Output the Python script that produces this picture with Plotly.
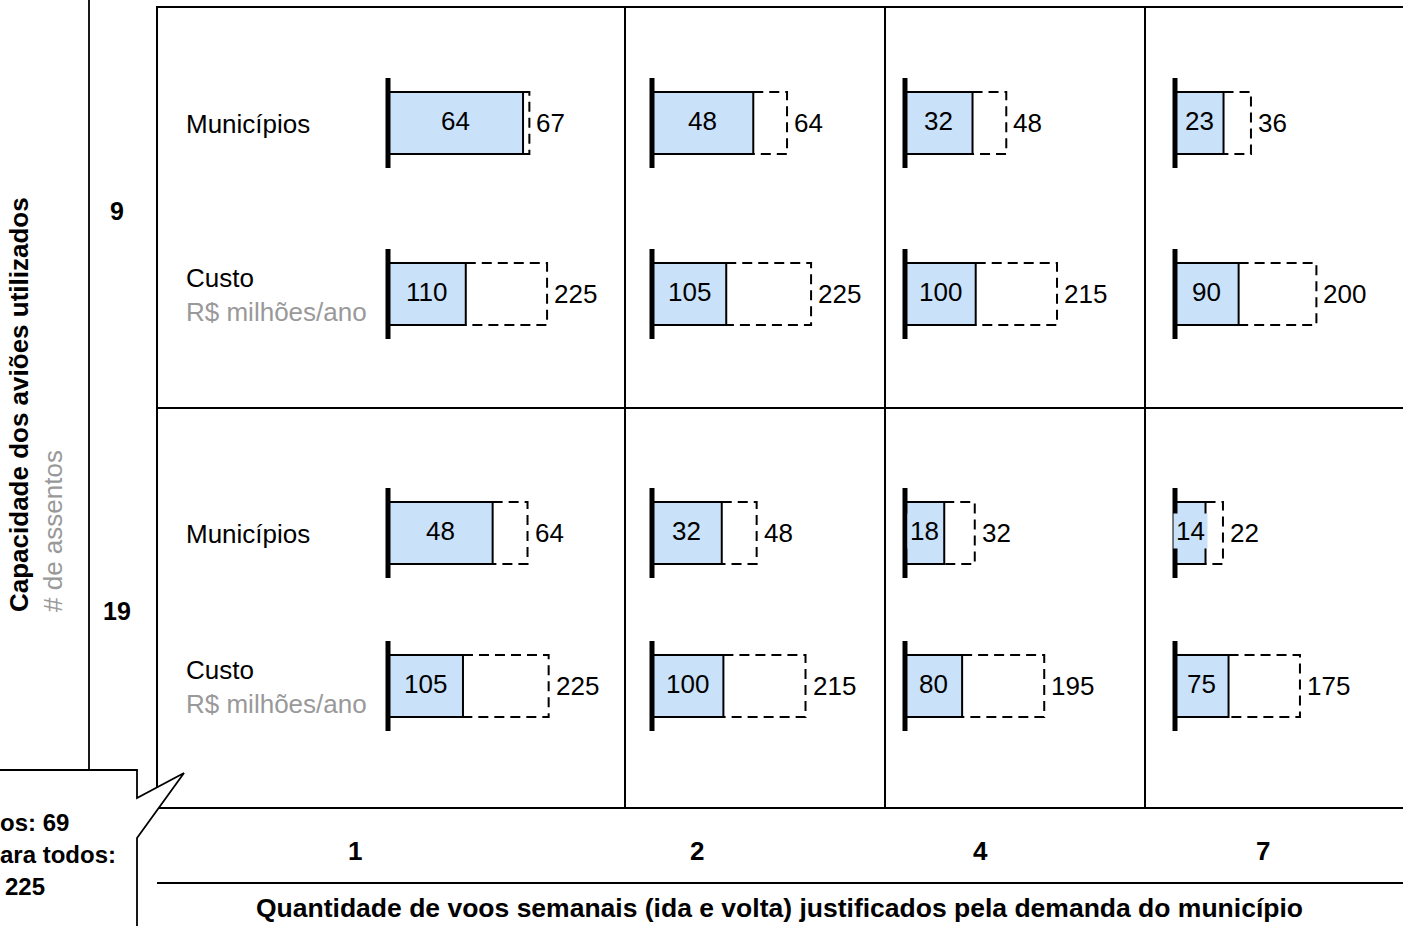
import plotly.graph_objects as go

W, H = 1403, 926
FONT = "Liberation Sans, Arial, sans-serif"
BLUE = "#c9e1f9"
GRAY = "#999999"

# Rows: aircraft capacity (seats); columns: weekly round trips
capacity_labels = ["9", "19"]
freq_labels = ["1", "2", "4", "7"]

municipios = [[64, 48, 32, 23], [48, 32, 18, 14]]
municipios_total = [[67, 64, 48, 36], [64, 48, 32, 22]]
custo = [[110, 105, 100, 90], [105, 100, 80, 75]]
custo_total = [[225, 225, 215, 200], [225, 215, 195, 175]]

# Callout at the lower-left corner (runs off the left edge of the page)
callout_lines = ["os: 69", "ara todos:", "225"]

# ---- layout geometry (pixels) ----
col_origin = [388, 652, 905, 1175]
muni_center = [123, 533]
cost_center = [294, 686]
muni_scale = [2.11, 2.18]    # px per município
cost_scale = [0.707, 0.714]  # px per R$ milhão
BAR_H = 62
PAD, SPAN = 10, 200

fig = go.Figure()
layout_axes = {}
annotations = []
ax_id = 2


def add_cell(value, total, col, yc, scale):
    global ax_id
    n = ax_id
    ax_id += 1
    origin = col_origin[col]
    layout_axes[f"xaxis{n}"] = dict(
        domain=[(origin - PAD) / W, (origin + SPAN) / W],
        range=[-PAD / scale, SPAN / scale],
        anchor="y", visible=False, fixedrange=True,
    )
    xr = f"x{n}"
    fig.add_trace(go.Bar(
        x=[value], y=[yc], base=0, orientation="h", width=BAR_H,
        marker=dict(color=BLUE, line=dict(color="black", width=2)),
        xaxis=xr, yaxis="y", hoverinfo="skip", showlegend=False,
    ))
    top, bot = yc - BAR_H / 2, yc + BAR_H / 2
    fig.add_trace(go.Scatter(
        x=[value, total, total, value], y=[top, top, bot, bot],
        mode="lines", line=dict(color="black", width=2, dash="10px,6px"),
        xaxis=xr, yaxis="y", hoverinfo="skip", showlegend=False,
    ))
    fig.add_trace(go.Scatter(
        x=[0, 0], y=[yc - 45, yc + 45], mode="lines",
        line=dict(color="black", width=5),
        xaxis=xr, yaxis="y", hoverinfo="skip", showlegend=False,
    ))
    annotations.append(dict(
        x=value / 2, y=yc - 2, xref=xr, yref="y", text=str(value),
        showarrow=False, bgcolor=BLUE, borderpad=2,
        font=dict(family=FONT, size=26, color="black"),
        xanchor="center", yanchor="middle",
    ))
    annotations.append(dict(
        x=total, y=yc, xref=xr, yref="y", text=str(total), xshift=5,
        showarrow=False, font=dict(family=FONT, size=26, color="black"),
        xanchor="left", yanchor="middle",
    ))


for r in range(2):
    for c in range(4):
        add_cell(municipios[r][c], municipios_total[r][c], c, muni_center[r], muni_scale[r])
        add_cell(custo[r][c], custo_total[r][c], c, cost_center[r], cost_scale[r])

# Row labels inside the first column
for r in range(2):
    annotations.append(dict(
        x=184, y=muni_center[r] + 1, xref="x", yref="y", text="Municípios",
        showarrow=False, font=dict(family=FONT, size=26, color="black"),
        xanchor="left", yanchor="middle",
    ))
    annotations.append(dict(
        x=184, y=cost_center[r] + 1, xref="x", yref="y",
        text=f"Custo<br><span style='color:{GRAY}'>R$ milhões/ano</span>",
        showarrow=False, align="left",
        font=dict(family=FONT, size=26, color="black"),
        xanchor="left", yanchor="middle",
    ))

# Capacity labels (left axis)
cap_y = [211, 611]
for lab, yy in zip(capacity_labels, cap_y):
    annotations.append(dict(
        x=117, y=yy, xref="x", yref="y", text=f"<b>{lab}</b>", showarrow=False,
        font=dict(family=FONT, size=25, color="black"),
        xanchor="center", yanchor="middle",
    ))

# Frequency labels (bottom axis)
freq_x = [355, 697, 980, 1263]
for lab, xx in zip(freq_labels, freq_x):
    annotations.append(dict(
        x=xx, y=851, xref="x", yref="y", text=f"<b>{lab}</b>", showarrow=False,
        font=dict(family=FONT, size=26, color="black"),
        xanchor="center", yanchor="middle",
    ))

# Axis titles
annotations.append(dict(
    x=779, y=908, xref="x", yref="y",
    text="<b>Quantidade de voos semanais (ida e volta) justificados pela demanda do município</b>",
    showarrow=False, font=dict(family=FONT, size=26.5, color="black"),
    xanchor="center", yanchor="middle",
))
annotations.append(dict(
    x=36, y=405, xref="x", yref="y", textangle=-90, align="left",
    text=f"<b>Capacidade dos aviões utilizados</b><br><span style='color:{GRAY}'># de assentos</span>",
    showarrow=False, font=dict(family=FONT, size=26, color="black"),
    xanchor="center", yanchor="middle",
))

# Callout text
callout_shift = [-2, -2, 3]
callout_y = [822, 854, 886]
for txt, dx, yy in zip(callout_lines, callout_shift, callout_y):
    annotations.append(dict(
        x=0, y=yy, xref="x", yref="y", xshift=dx, text=f"<b>{txt}</b>", showarrow=False,
        font=dict(family=FONT, size=24, color="black"),
        xanchor="left", yanchor="middle",
    ))

# Grid lines
def hline(y, x0, x1, w=2):
    return dict(type="line", xref="x", yref="y", x0=x0, x1=x1, y0=y, y1=y,
                line=dict(color="black", width=w))

def vline(x, y0, y1, w=2):
    return dict(type="line", xref="x", yref="y", x0=x, x1=x, y0=y0, y1=y1,
                line=dict(color="black", width=w))

shapes = [
    hline(7, 157, W + 5),
    hline(408, 157, W + 5),
    hline(808, 157, W + 5),
    hline(883, 157, W + 5),
    vline(157, 6, 808),
    vline(625, 6, 808),
    vline(885, 6, 808),
    vline(1145, 6, 808),
    vline(89, -5, 770, 1.8),
    # speech-bubble callout
    dict(type="path", xref="x", yref="y",
         path="M -10 770 L 137 770 L 137 798 L 184 773 L 137 838 L 137 940 L -10 940 Z",
         fillcolor="white", line=dict(color="black", width=1.8)),
]

fig.update_layout(
    width=W, height=H,
    margin=dict(l=0, r=0, t=0, b=0),
    paper_bgcolor="white", plot_bgcolor="rgba(0,0,0,0)",
    showlegend=False,
    xaxis=dict(domain=[0, 1], range=[0, W], visible=False, fixedrange=True),
    yaxis=dict(domain=[0, 1], range=[H, 0], visible=False, fixedrange=True),
    shapes=shapes,
    annotations=annotations,
    **layout_axes,
)

fig.write_html("out.html")
